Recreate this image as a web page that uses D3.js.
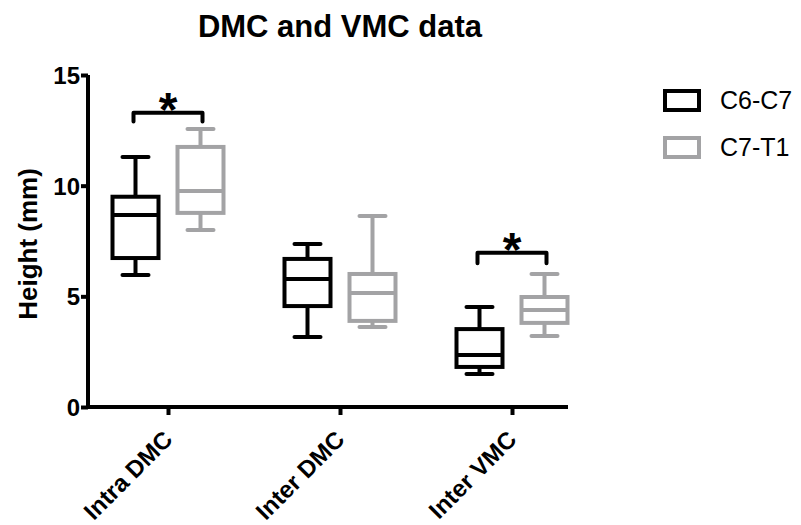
<!DOCTYPE html>
<html>
<head>
<meta charset="utf-8">
<script src="https://cdn.jsdelivr.net/npm/d3@7"></script>
<style>
  body { margin: 0; background: #fff; }
  text { font-family: "Liberation Sans", Arial, sans-serif; }
</style>
</head>
<body>
<div id="chart"></div>
<script>
/* DATA */
const categories = ["Intra DMC", "Inter DMC", "Inter VMC"];
const seriesNames = ["C6-C7", "C7-T1"];
const seriesColors = ["#000000", "#a3a3a5"];
// [min, q1, median, q3, max] per category
const c6c7 = [
  [5.96, 6.73, 8.68, 9.5, 11.3],
  [3.16, 4.56, 5.78, 6.69, 7.37],
  [1.49, 1.81, 2.35, 3.52, 4.52]
];
const c7t1 = [
  [8.0, 8.77, 9.76, 11.75, 12.56],
  [3.61, 3.89, 5.15, 6.01, 8.63],
  [3.21, 3.8, 4.38, 4.97, 6.01]
];
const yTicks = [0, 5, 10, 15];
// significance brackets: category, bracket level, bracket tail
const sigMarks = [
  { cat: "Intra DMC", level: 13.3, tail: 12.9 },
  { cat: "Inter VMC", level: 6.97, tail: 6.5 }
];

/* CONSTANTS */
const width = 801, height = 525;
const margin = { top: 75, bottom: 118, left: 88, right: 233 };

const svg = d3.select("#chart").append("svg")
  .attr("width", width)
  .attr("height", height);

const xScale = d3.scalePoint()
  .domain(categories)
  .range([168, 512]);

const yScale = d3.scaleLinear()
  .domain([0, 15])
  .range([height - margin.bottom, margin.top]);

const offset = d3.scalePoint()
  .domain(seriesNames)
  .range([-32.5, 32.5]);

const boxW = 46, capW = 26, sw = 4;

// title
svg.append("text")
  .attr("x", 340)
  .attr("y", 37)
  .attr("text-anchor", "middle")
  .attr("font-size", 31)
  .attr("font-weight", "bold")
  .text("DMC and VMC data");

// y axis
const yAxis = d3.axisLeft(yScale).tickValues(yTicks).tickSize(7).tickPadding(1);
const gy = svg.append("g")
  .attr("transform", `translate(${margin.left},0)`)
  .call(yAxis);
gy.select(".domain").attr("stroke-width", sw).attr("d", `M0,${yScale(15)}V${yScale(0)}`);
gy.selectAll(".tick line").attr("stroke-width", sw);
gy.selectAll(".tick text")
  .attr("font-size", 24)
  .attr("font-weight", "bold")
  .attr("font-family", "Liberation Sans, Arial, sans-serif")
  .attr("dy", "0.36em");

svg.append("text")
  .attr("transform", `translate(37,${(yScale(0) + yScale(15)) / 2 + 3}) rotate(-90)`)
  .attr("text-anchor", "middle")
  .attr("font-size", 26)
  .attr("font-weight", "bold")
  .text("Height (mm)");

// x axis
const xAxis = d3.axisBottom(xScale).tickSize(8).tickFormat("");
const gx = svg.append("g")
  .attr("transform", `translate(0,${yScale(0)})`)
  .call(xAxis);
gx.select(".domain").attr("stroke-width", sw).attr("d", `M${margin.left - 2},0H568`);
gx.selectAll(".tick line").attr("stroke-width", sw);

svg.selectAll(".xlabel")
  .data(categories)
  .join("text")
  .attr("class", "xlabel")
  .attr("transform", d => `translate(${xScale(d) + 6},${yScale(0) + 34}) rotate(-45)`)
  .attr("text-anchor", "end")
  .attr("font-size", 24)
  .attr("font-weight", "bold")
  .text(d => d);

// boxes
const boxData = [];
categories.forEach((c, i) => {
  boxData.push({ cat: c, series: seriesNames[0], color: seriesColors[0], v: c6c7[i] });
  boxData.push({ cat: c, series: seriesNames[1], color: seriesColors[1], v: c7t1[i] });
});

const box = svg.selectAll(".box")
  .data(boxData)
  .join("g")
  .attr("class", "box")
  .attr("transform", d => `translate(${xScale(d.cat) + offset(d.series)},0)`)
  .attr("stroke", d => d.color)
  .attr("stroke-width", sw)
  .attr("fill", "none");

box.append("line")
  .attr("x1", 0).attr("x2", 0)
  .attr("y1", d => yScale(d.v[4]))
  .attr("y2", d => yScale(d.v[3]));
box.append("line")
  .attr("x1", 0).attr("x2", 0)
  .attr("y1", d => yScale(d.v[1]))
  .attr("y2", d => yScale(d.v[0]));
box.append("line")
  .attr("stroke-linecap", "round")
  .attr("x1", -capW / 2).attr("x2", capW / 2)
  .attr("y1", d => yScale(d.v[4])).attr("y2", d => yScale(d.v[4]));
box.append("line")
  .attr("stroke-linecap", "round")
  .attr("x1", -capW / 2).attr("x2", capW / 2)
  .attr("y1", d => yScale(d.v[0])).attr("y2", d => yScale(d.v[0]));
box.append("rect")
  .attr("x", -boxW / 2)
  .attr("width", boxW)
  .attr("y", d => yScale(d.v[3]))
  .attr("height", d => yScale(d.v[1]) - yScale(d.v[3]));
box.append("line")
  .attr("x1", -boxW / 2).attr("x2", boxW / 2)
  .attr("y1", d => yScale(d.v[2])).attr("y2", d => yScale(d.v[2]));

// significance
const sig = svg.selectAll(".sig")
  .data(sigMarks)
  .join("g")
  .attr("class", "sig");
sig.append("path")
  .attr("fill", "none")
  .attr("stroke", "#000")
  .attr("stroke-width", sw)
  .attr("stroke-linejoin", "round")
  .attr("stroke-linecap", "round")
  .attr("d", d => {
    const x0 = xScale(d.cat) + offset(seriesNames[0]) - 2;
    const x1 = xScale(d.cat) + offset(seriesNames[1]) + 2;
    return `M${x0},${yScale(d.tail)}V${yScale(d.level)}H${x1}V${yScale(d.tail)}`;
  });
sig.append("text")
  .attr("x", d => xScale(d.cat))
  .attr("y", d => yScale(d.level) + 13)
  .attr("text-anchor", "middle")
  .attr("font-size", 48)
  .attr("font-weight", "bold")
  .text("*");

// legend
const legend = svg.selectAll(".legend")
  .data(seriesNames)
  .join("g")
  .attr("class", "legend")
  .attr("transform", (d, i) => `translate(663,${89 + i * 47})`);
legend.append("rect")
  .attr("x", 2).attr("y", 2)
  .attr("width", 34).attr("height", 19)
  .attr("fill", "none")
  .attr("stroke", (d, i) => seriesColors[i])
  .attr("stroke-width", sw);
legend.append("text")
  .attr("x", 57)
  .attr("y", 20)
  .attr("font-size", 25)
  .text(d => d);
</script>
</body>
</html>
